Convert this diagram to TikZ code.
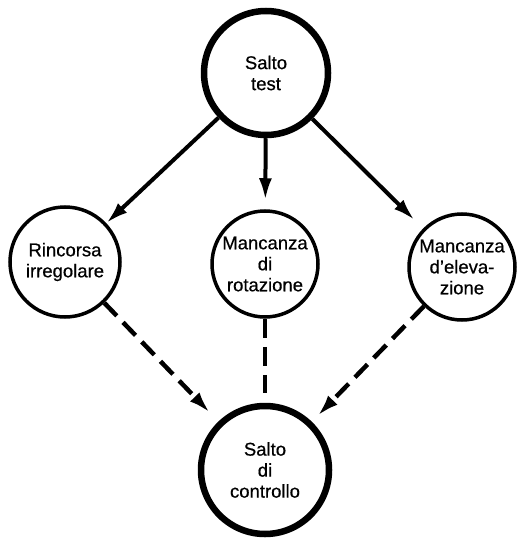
\documentclass[tikz,border=0pt]{standalone}
\usepackage{fontspec}
\setmainfont{Liberation Sans}[FakeBold=0.6]
\usetikzlibrary{arrows.meta}
\begin{document}
\begin{tikzpicture}[x=1pt,y=-1pt,
  bigc/.style={circle,draw,line width=6.5pt,inner sep=0pt,align=center,font=\fontsize{18.5}{21}\selectfont},
  smallc/.style={circle,draw,line width=3.5pt,inner sep=0pt,align=center,font=\fontsize{18.5}{21}\selectfont},
  solidarrow/.style={line width=4pt,-{Latex[length=22pt,width=13pt]}},
  dasharrow/.style={line width=4.5pt,dash pattern=on 18pt off 9pt,-{Latex[length=22pt,width=13pt]}},
  dashline/.style={line width=4.5pt,dash pattern=on 19pt off 9pt}]
\useasboundingbox (0,0) rectangle (520,540);
\node[bigc,minimum size=124pt] (top) at (266,73) {Salto\\test};
\node[smallc,minimum size=110pt] (left) at (65,262) {Rincorsa\\irregolare};
\node[smallc,minimum size=106pt] (mid) at (265,264) {Mancanza\\di\\rotazione};
\node[smallc,minimum size=106pt] (right) at (462,267) {Mancanza\\d’eleva-\\zione};
\node[bigc,minimum size=128pt] (bot) at (265,470) {Salto\\di\\controllo};
\draw[solidarrow] (top) -- (left);
\draw[solidarrow,shorten >=9pt] (top) -- (mid);
\draw[solidarrow,shorten >=12pt] (top) -- (right);
\draw[dasharrow,shorten >=12pt] (left) -- (bot);
\draw[dashline,shorten >=10pt] (mid) -- (bot);
\draw[dasharrow,shorten >=8pt] (right) -- (bot);
\end{tikzpicture}
\end{document}
